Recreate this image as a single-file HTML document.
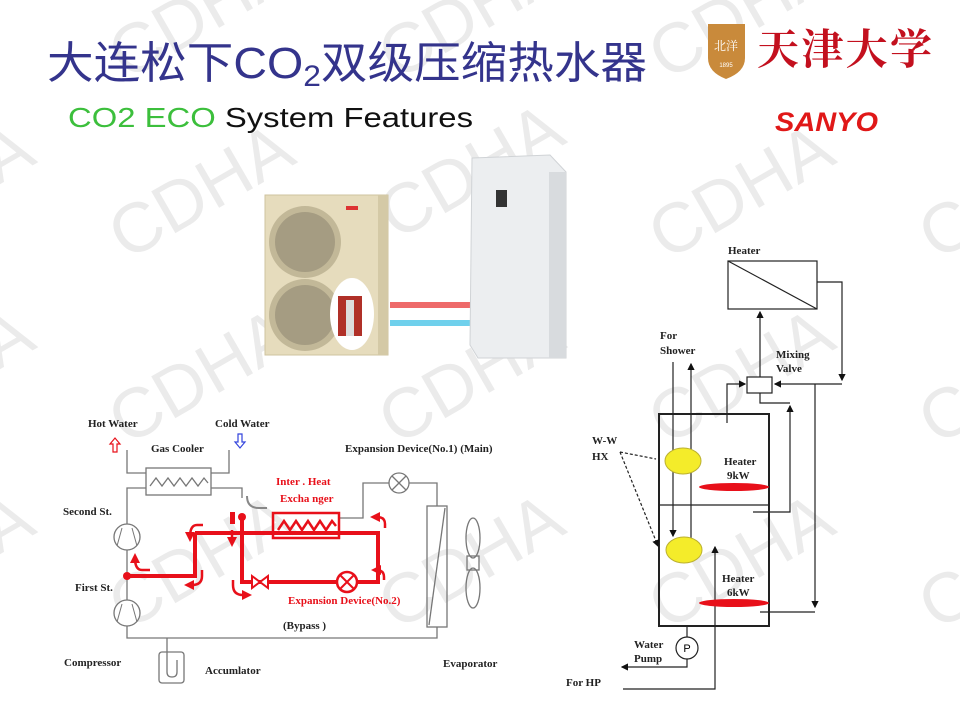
<!DOCTYPE html>
<html><head><meta charset="utf-8"><style>
html,body{margin:0;padding:0;background:#fff;width:960px;height:720px;overflow:hidden;}
svg{display:block;}
.s{font-family:"Liberation Serif","Noto Serif CJK SC",serif;font-size:11px;fill:#222;font-weight:bold;}
.r{fill:#e8101a;}
</style></head><body>
<svg width="960" height="720" viewBox="0 0 960 720" xmlns="http://www.w3.org/2000/svg">
<defs>
<marker id="a" markerWidth="6" markerHeight="6" refX="5" refY="3" orient="auto"><path d="M0,0 L6,3 L0,6z" fill="#111"/></marker>
<marker id="ar" markerWidth="4" markerHeight="4" refX="2" refY="2" orient="auto"><path d="M0,0 L4,2 L0,4z" fill="#e8101a"/></marker>
</defs>
<!-- watermarks -->
<g font-family="Liberation Sans,sans-serif" font-size="70" fill="#ebebeb" text-anchor="middle">
<g transform="translate(200,190) rotate(-30)"><text y="25">CDHA</text></g>
<g transform="translate(470,170) rotate(-30)"><text y="25">CDHA</text></g>
<g transform="translate(740,190) rotate(-30)"><text y="25">CDHA</text></g>
<g transform="translate(200,375) rotate(-30)"><text y="25">CDHA</text></g>
<g transform="translate(470,375) rotate(-30)"><text y="25">CDHA</text></g>
<g transform="translate(740,375) rotate(-30)"><text y="25">CDHA</text></g>
<g transform="translate(200,560) rotate(-30)"><text y="25">CDHA</text></g>
<g transform="translate(470,560) rotate(-30)"><text y="25">CDHA</text></g>
<g transform="translate(740,560) rotate(-30)"><text y="25">CDHA</text></g>
<g transform="translate(200,10) rotate(-30)"><text y="25">CDHA</text></g>
<g transform="translate(470,10) rotate(-30)"><text y="25">CDHA</text></g>
<g transform="translate(740,10) rotate(-30)"><text y="25">CDHA</text></g>
<g transform="translate(-60,190) rotate(-30)"><text y="25">CDHA</text></g>
<g transform="translate(-60,375) rotate(-30)"><text y="25">CDHA</text></g>
<g transform="translate(-60,560) rotate(-30)"><text y="25">CDHA</text></g>
<g transform="translate(1010,190) rotate(-30)"><text y="25">CDHA</text></g>
<g transform="translate(1010,375) rotate(-30)"><text y="25">CDHA</text></g>
<g transform="translate(1010,560) rotate(-30)"><text y="25">CDHA</text></g>
</g>
<!-- title -->
<text x="47" y="78" font-family="Liberation Sans,'Noto Sans CJK SC',sans-serif" font-size="44" fill="#34348c" textLength="600" lengthAdjust="spacingAndGlyphs">大连松下CO<tspan font-size="30" dy="8">2</tspan><tspan dy="-8">双级压缩热水器</tspan></text>
<text x="68" y="127" font-family="Liberation Sans,sans-serif" font-size="28" textLength="405" lengthAdjust="spacingAndGlyphs"><tspan fill="#3cbf3c">CO2  ECO </tspan><tspan fill="#111">System Features</tspan></text>
<!-- logo -->
<path d="M708,24 L745,24 L745,58 Q745,72 726,79 Q708,72 708,58z" fill="#c98a3b"/>
<text x="726" y="50" font-size="12" fill="#fff" text-anchor="middle" font-family="Noto Serif CJK SC,serif">北洋</text>
<text x="726" y="67" font-size="6" fill="#fff" text-anchor="middle" font-family="Liberation Sans,sans-serif">1895</text>
<text x="757" y="64" font-family="'Noto Serif CJK SC',serif" font-size="42" font-weight="bold" fill="#c3101e" textLength="175" lengthAdjust="spacing">天津大学</text>
<text x="775" y="131" font-family="Liberation Sans,sans-serif" font-size="27" font-weight="bold" font-style="italic" fill="#e01818" textLength="103" lengthAdjust="spacingAndGlyphs">SANYO</text>
<!-- outdoor unit -->
<rect x="265" y="195" width="123" height="160" fill="#e6dcbd" stroke="#cfc39f"/>
<rect x="378" y="195" width="10" height="160" fill="#d4c9a6"/>
<circle cx="305" cy="242" r="36" fill="#c2b898"/><circle cx="305" cy="242" r="30" fill="#a59c82"/>
<circle cx="305" cy="315" r="36" fill="#c2b898"/><circle cx="305" cy="315" r="30" fill="#a59c82"/>
<ellipse cx="352" cy="314" rx="22" ry="36" fill="#fff"/>
<rect x="338" y="296" width="24" height="40" fill="#b03028"/><rect x="346" y="300" width="8" height="36" fill="#ddd"/>
<rect x="346" y="206" width="12" height="4" fill="#d33"/>
<!-- pipes -->
<rect x="390" y="302" width="80" height="6" fill="#ee6a6a"/>
<rect x="390" y="320" width="80" height="6" fill="#6fd0ec"/>
<!-- indoor unit -->
<path d="M472,158 L550,155 L566,172 L566,358 L478,358 L470,345z" fill="#eceef0" stroke="#d0d3d6"/>
<rect x="549" y="172" width="17" height="186" fill="#d8dbde"/>
<rect x="496" y="190" width="11" height="17" fill="#333"/>
<!-- left schematic -->
<g fill="none" stroke="#777" stroke-width="1.3">
<path d="M127,450 V473 H146 M211,473 H229 V450"/>
<rect x="146" y="468" width="65" height="27"/>
<path d="M150,486 l6,-8 6,8 6,-8 6,8 6,-8 6,8 6,-8 6,8 6,-8 4,5"/>
<path d="M146,488 H127 V638 H437 V627 M211,488 H242 V498"/>
<path d="M340,518 H363 V483 H389 M409,483 H437 V506"/>
<circle cx="399" cy="483" r="10"/><path d="M392,476 l14,14 M406,476 l-14,14"/>
<rect x="427" y="506" width="20" height="121"/><path d="M429,625 L445,508"/>
<ellipse cx="473" cy="538" rx="7" ry="20"/><ellipse cx="473" cy="588" rx="7" ry="20"/>
<rect x="467" y="556" width="12" height="14"/>
<rect x="159" y="652" width="25" height="31" rx="3"/>
<path d="M167,638 V672 Q167,677 172,677 Q177,677 177,672 V660"/>
<path d="M247,496 q0,12 12,12 h8" stroke="#888" stroke-width="2"/>
</g>
<g fill="#fff" stroke="#777" stroke-width="1.3">
<circle cx="127" cy="537" r="13"/><circle cx="127" cy="613" r="13"/>
</g>
<path d="M122,528 L117,546 M132,528 L137,546 M122,604 L117,622 M132,604 L137,622" stroke="#777" fill="none"/>
<g fill="none" stroke="#e8101a" stroke-width="4">
<path d="M195,533 H378 V582 H242 V520"/>
<path d="M195,533 V576 H127"/>
<rect x="273" y="513" width="66" height="25" stroke-width="2.5"/>
</g>
<path d="M278,530 l6,-9 6,9 6,-9 6,9 6,-9 6,9 6,-9 6,9 6,-9 4,5" fill="none" stroke="#e8101a" stroke-width="2.5"/>
<circle cx="127" cy="576" r="4" fill="#e8101a"/>
<circle cx="242" cy="517" r="4" fill="#e8101a"/><rect x="230" y="512" width="5" height="12" fill="#e8101a"/>
<path d="M232,530 v12" stroke="#e8101a" stroke-width="2.5" marker-end="url(#ar)"/>
<circle cx="347" cy="582" r="10" fill="#fff" stroke="#e8101a" stroke-width="2.5"/>
<path d="M340,575 l14,14 M354,575 l-14,14" stroke="#e8101a" stroke-width="2"/>
<path d="M252,576 L268,588 V576 L252,588z" fill="#fff" stroke="#e8101a" stroke-width="2"/>
<g fill="none" stroke="#e8101a" stroke-width="2.5" marker-end="url(#ar)">
<path d="M203,525 h-6 q-7,0 -7,12"/><path d="M202,570 v6 q0,9 -10,9 h-3"/>
<path d="M150,570 h-8 q-7,0 -7,-12"/><path d="M233,580 v5 q0,10 10,10 h4"/>
<path d="M385,528 v-4 q0,-7 -8,-7 h-2"/><path d="M384,580 v-3 q0,-7 -8,-7"/>
</g>
<path d="M113,452 v-8 h-3 l5,-6 5,6 h-3 v8z" fill="none" stroke="#e8101a" stroke-width="1.2"/>
<path d="M238,434 v8 h-3 l5,6 5,-6 h-3 v-8z" fill="none" stroke="#3344dd" stroke-width="1.2"/>
<text class="s" x="88" y="427">Hot Water</text>
<text class="s" x="215" y="427">Cold Water</text>
<text class="s" x="151" y="452">Gas Cooler</text>
<text class="s" x="345" y="452">Expansion Device(No.1)  (Main)</text>
<text class="s r" x="276" y="485">Inter . Heat</text>
<text class="s r" x="280" y="502">Excha nger</text>
<text class="s" x="63" y="515">Second St.</text>
<text class="s" x="75" y="591">First St.</text>
<text class="s r" x="288" y="604">Expansion Device(No.2)</text>
<text class="s" x="283" y="629">(Bypass )</text>
<text class="s" x="64" y="666">Compressor</text>
<text class="s" x="205" y="674">Accumlator</text>
<text class="s" x="443" y="667">Evaporator</text>
<!-- right schematic -->
<g fill="none" stroke="#222" stroke-width="1.2">
<rect x="728" y="261" width="89" height="48"/><path d="M728,261 L817,309"/>
<path d="M817,282 H842 V380" marker-end="url(#a)"/>
<path d="M760,377 V312" marker-end="url(#a)"/>
<path d="M842,384 H775" marker-end="url(#a)"/>
<path d="M815,384 V607" marker-end="url(#a)"/>
<path d="M760,612 H815"/>
<path d="M727,423 V384 H745" marker-end="url(#a)"/>
<path d="M760,393 V403 H790"/>
<path d="M753,512 H790 V406" marker-end="url(#a)"/>
<rect x="659" y="414" width="110" height="212" stroke-width="2"/>
<path d="M659,505 H769"/>
<path d="M673,362 V536" marker-end="url(#a)"/>
<path d="M691,542 V364" marker-end="url(#a)"/>
<path d="M687,626 V637 M687,659 V667 H622" marker-end="url(#a)"/>
<path d="M623,689 H715 V547" marker-end="url(#a)"/>
<path d="M620,452 L656,459 M620,452 L658,546" stroke-dasharray="3,2" marker-end="url(#a)"/>
</g>
<rect x="747" y="377" width="25" height="16" fill="#fff" stroke="#222" stroke-width="1.2"/>
<circle cx="687" cy="648" r="11" fill="#fff" stroke="#222" stroke-width="1.2"/>
<text x="687" y="652" font-family="Liberation Sans,sans-serif" font-size="11" text-anchor="middle">P</text>
<ellipse cx="683" cy="461" rx="18" ry="13" fill="#f4ec2a" stroke="#bbb030"/>
<ellipse cx="684" cy="550" rx="18" ry="13" fill="#f4ec2a" stroke="#bbb030"/>
<ellipse cx="734" cy="487" rx="35" ry="4" fill="#e8101a"/>
<ellipse cx="734" cy="603" rx="35" ry="4" fill="#e8101a"/>
<text class="s" x="728" y="254">Heater</text>
<text class="s" x="660" y="339">For</text><text class="s" x="660" y="354">Shower</text>
<text class="s" x="776" y="358" font-size="10">Mixing</text><text class="s" x="776" y="372" font-size="10">Valve</text>
<text class="s" x="592" y="444">W-W</text><text class="s" x="592" y="460">HX</text>
<text class="s" x="724" y="465">Heater</text><text class="s" x="727" y="479">9kW</text>
<text class="s" x="722" y="582">Heater</text><text class="s" x="727" y="596">6kW</text>
<text class="s" x="634" y="648">Water</text><text class="s" x="634" y="662">Pump</text>
<text class="s" x="566" y="686">For HP</text>
</svg>
</body></html>
